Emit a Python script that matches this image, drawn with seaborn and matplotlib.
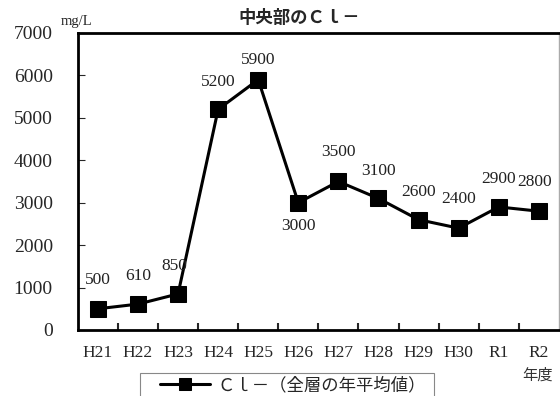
import numpy as np
import pandas as pd
import seaborn as sns
import matplotlib.pyplot as plt
from matplotlib.ticker import FixedLocator

years = ["H21", "H22", "H23", "H24", "H25", "H26", "H27", "H28", "H29", "H30", "R1", "R2"]
cl_values = [500, 610, 850, 5200, 5900, 3000, 3500, 3100, 2600, 2400, 2900, 2800]
# label offsets in points (dx, dy)
label_offsets = [(0, 21), (0, 20), (-3, 20), (0, 20), (0, 14), (0, -17),
                 (0, 21), (0, 20), (0, 20), (0, 21), (0, 20), (-3, 21)]

df = pd.DataFrame({"year": years, "cl": cl_values, "x": np.arange(len(years))})

sns.set_style("white")
plt.rcParams["font.family"] = ["Liberation Serif", "Noto Sans CJK JP"]
jp = ["Noto Sans CJK JP"]

fig = plt.figure(figsize=(5.6, 3.96), dpi=100)
ax = fig.add_axes([0.139, 0.1667, 0.859, 0.75])

sns.lineplot(data=df, x="x", y="cl", ax=ax, color="black", linewidth=2.2,
             marker="s", markersize=11, markeredgecolor="black", legend=False)

for xi, v, (dx, dy) in zip(df["x"], cl_values, label_offsets):
    ax.annotate(str(v), (xi, v), xytext=(dx, dy), textcoords="offset points",
                ha="center", va="center", fontsize=12.5, color="#222222")

ax.set_xlim(-0.5, 11.5)
ax.set_ylim(0, 7000)
ax.set_yticks(range(0, 7001, 1000))
ax.set_xticks(df["x"])
ax.set_xticklabels(years)
ax.xaxis.set_minor_locator(FixedLocator(np.arange(0.5, 11, 1)))
ax.tick_params(axis="x", which="major", length=0, labelsize=12.5, pad=11)
ax.tick_params(axis="x", which="minor", direction="in", length=5, width=1.5, bottom=True)
ax.tick_params(axis="y", direction="in", length=5, width=0.8, labelsize=14, left=True, pad=18)
ax.set_xlabel("")
ax.set_ylabel("")

for s in ["left", "bottom", "top"]:
    ax.spines[s].set_color("black")
    ax.spines[s].set_linewidth(2)
ax.spines["right"].set_color("#aaaaaa")
ax.spines["right"].set_linewidth(1)

fig.text(0.535, 0.955, "中央部のＣｌ－", family=jp, fontweight="bold", fontsize=12.5,
         ha="center", va="center")
fig.text(0.136, 0.945, "mg/L", fontsize=10.5, ha="center", va="center")
fig.text(0.959, 0.053, "年度", family=jp, fontsize=11, ha="center", va="center", color="#333333")

# legend (frame drawn separately, it runs off the bottom edge)
leg = fig.legend(handles=ax.get_lines()[:1], labels=["Ｃｌ－（全層の年平均値）"],
                 loc="upper left", bbox_to_anchor=(160 / 560, 0.05), borderaxespad=0,
                 frameon=False, handlelength=2.9, handletextpad=0.4, markerscale=0.75,
                 prop={"family": jp, "size": 12.5}, borderpad=0)
fig.add_artist(plt.Rectangle((140 / 560, -0.1), (434 - 140) / 560, 0.1 + 23 / 396,
                             transform=fig.transFigure, fill=False,
                             edgecolor="#888888", linewidth=0.8))

plt.savefig("out.png", dpi=100)
